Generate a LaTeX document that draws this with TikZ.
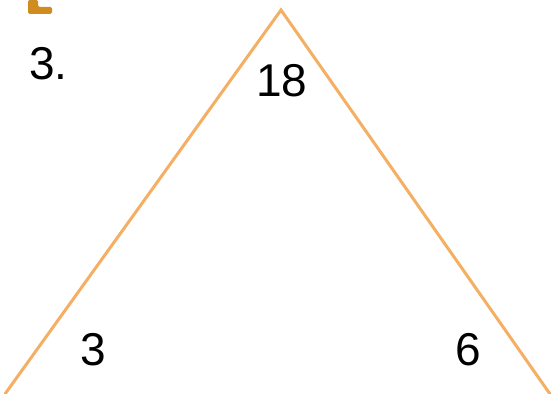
\documentclass[tikz,border=0pt]{standalone}
\usepackage{fontspec}
\setmainfont{Liberation Sans}
\definecolor{legcol}{HTML}{F5AF64}
\definecolor{markcol}{HTML}{D08C1E}
\begin{document}
\begin{tikzpicture}[x=1pt,y=1pt,
  num/.style={font=\fontsize{46}{50}\selectfont, text=black, inner sep=0pt},
  leg/.style={draw=legcol, line width=3pt, line cap=round, line join=miter}]
\useasboundingbox (0,0) rectangle (553,393);
% partial mark at the top left
\fill[markcol, rounded corners=1.5pt] (28,393) -- (28,379) -- (52,379) -- (52,386) -- (38,386) -- (38,393) -- cycle;
% triangle
\coordinate (apex) at (281,383);
\coordinate (bl) at (5,-1);
\coordinate (br) at (550,-1);
\draw[leg] (bl) -- (apex) -- (br);
% labels
\node[num, anchor=base west] (lab) at (29,313) {3.};
\node[num] (top) at (282,312) {18};
\node[num] (left) at (93,43) {3};
\node[num] (right) at (468,43) {6};
\end{tikzpicture}
\end{document}
